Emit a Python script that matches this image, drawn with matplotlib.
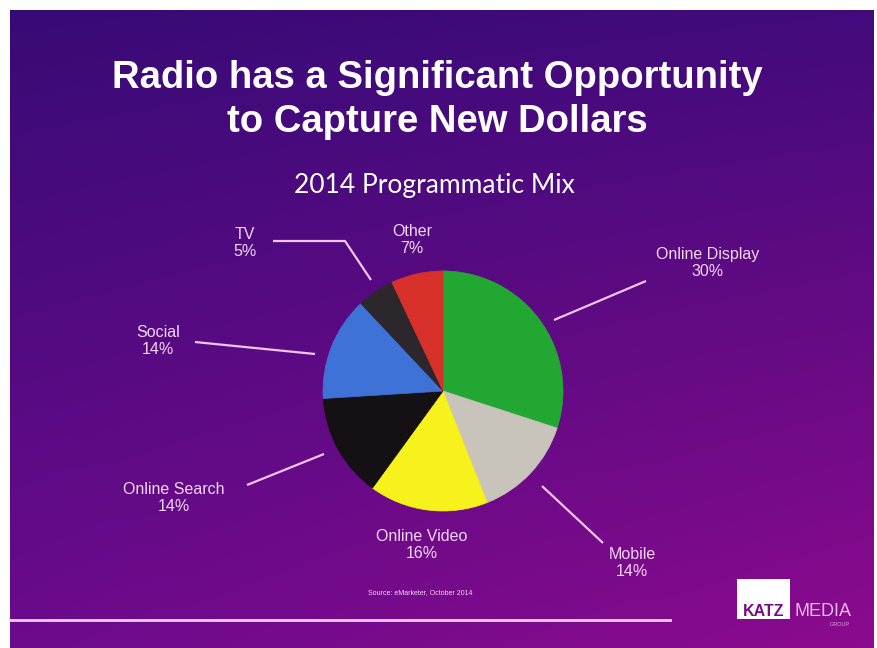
import numpy as np
import matplotlib
matplotlib.use("Agg")
import matplotlib.pyplot as plt
from matplotlib.patches import Rectangle

# --- data ---------------------------------------------------------------
categories = ["Online Display", "Mobile", "Online Video", "Online Search",
              "Social", "TV", "Other"]
shares = [30, 14, 16, 14, 14, 5, 7]
slice_colors = ["#22a832", "#c9c4bb", "#f7f21c", "#141014",
                "#3f72d6", "#2c272c", "#d8302a"]

title = "Radio has a Significant Opportunity\nto Capture New Dollars"
subtitle = "2014 Programmatic Mix"
source = "Source: eMarketer, October 2014"

# --- layout (pixel coordinates, origin top-left) -------------------------
W, H = 877, 648
label_pos = {
    "Online Display": (708, 263),
    "Mobile": (632, 563),
    "Online Video": (422, 545),
    "Online Search": (174, 498),
    "Social": (158, 341),
    "TV": (245, 243),
    "Other": (412, 240),
}
leaders = {
    "Online Display": [(646, 281), (554, 320)],
    "Mobile": [(603, 543), (542, 486)],
    "Online Search": [(247, 485), (324, 454)],
    "Social": [(195, 342), (315, 354)],
    "TV": [(273, 241), (345, 241), (371, 280)],
}
pie_center = (443, 391)
pie_radius = 120

label_color = "#f3d6f3"
line_color = "#eec6ee"

fig = plt.figure(figsize=(W / 100, H / 100), dpi=100, facecolor="white")

# background axes in pixel space
bg = fig.add_axes([0, 0, 1, 1])
bg.set_xlim(0, W)
bg.set_ylim(H, 0)
bg.axis("off")

# purple slide gradient (bilinear between corner colours)
tl = np.array([0x38, 0x0a, 0x76]) / 255
tr = np.array([0x42, 0x0b, 0x7c]) / 255
bl = np.array([0x6c, 0x0a, 0x8c]) / 255
br = np.array([0x8c, 0x0a, 0x8e]) / 255
ny, nx = 200, 200
u = np.linspace(0, 1, nx)[None, :, None]
v = np.linspace(0, 1, ny)[:, None, None]
grad = (1 - v) * ((1 - u) * tl + u * tr) + v * ((1 - u) * bl + u * br)
bg.imshow(grad, extent=[10, 874, H, 10], aspect="auto",
          interpolation="bilinear", zorder=0)

# titles
bg.text(437, 100, title, ha="center", va="center", color="white",
        fontsize=27.5, fontweight="bold", family="Liberation Sans",
        linespacing=1.25, zorder=3)
bg.text(434, 185, subtitle, ha="center", va="center", color="white",
        fontsize=19, family="Lato", zorder=3)

# data labels and leader lines
for cat, val in zip(categories, shares):
    x, y = label_pos[cat]
    bg.text(x, y, f"{cat}\n{val}%", ha="center", va="center",
            color=label_color, fontsize=11.5, family="Liberation Sans",
            linespacing=1.15, zorder=3)
    if cat in leaders:
        xs, ys = zip(*leaders[cat])
        bg.plot(xs, ys, color=line_color, lw=1.6, zorder=2,
                solid_capstyle="butt")

# footer
bg.text(420, 593, source, ha="center", va="center", color=label_color,
        fontsize=5, family="Liberation Sans", zorder=3)
bg.plot([10, 670], [620, 620], color="#f2cdf2", lw=2.0, zorder=2)

# logo
bg.add_patch(Rectangle((737, 579), 53, 40, facecolor="white",
                       edgecolor="none", zorder=3))
bg.text(763.5, 611, "KATZ", ha="center", va="center", color="#7a0a86",
        fontsize=11.5, fontweight="bold", family="Liberation Sans", zorder=4)
bg.text(823, 611, "MEDIA", ha="center", va="center", color="#e9b8ec",
        fontsize=13, family="Liberation Sans", zorder=4)
bg.text(840, 624, "GROUP", ha="center", va="center", color="#d9a8dc",
        fontsize=4, family="Liberation Sans", zorder=4)

# pie chart axes, square box around the pie
cx, cy = pie_center
r = pie_radius
ax = fig.add_axes([(cx - r) / W, (H - cy - r) / H, 2 * r / W, 2 * r / H])
wedges, _ = ax.pie(shares, colors=slice_colors, startangle=90,
                   counterclock=False, radius=1)
for w, c in zip(wedges, slice_colors):
    w.set_edgecolor(c)
    w.set_linewidth(0.5)
ax.set_xlim(-1, 1)
ax.set_ylim(-1, 1)
ax.axis("off")

fig.savefig("out.png", dpi=100, facecolor="white")
